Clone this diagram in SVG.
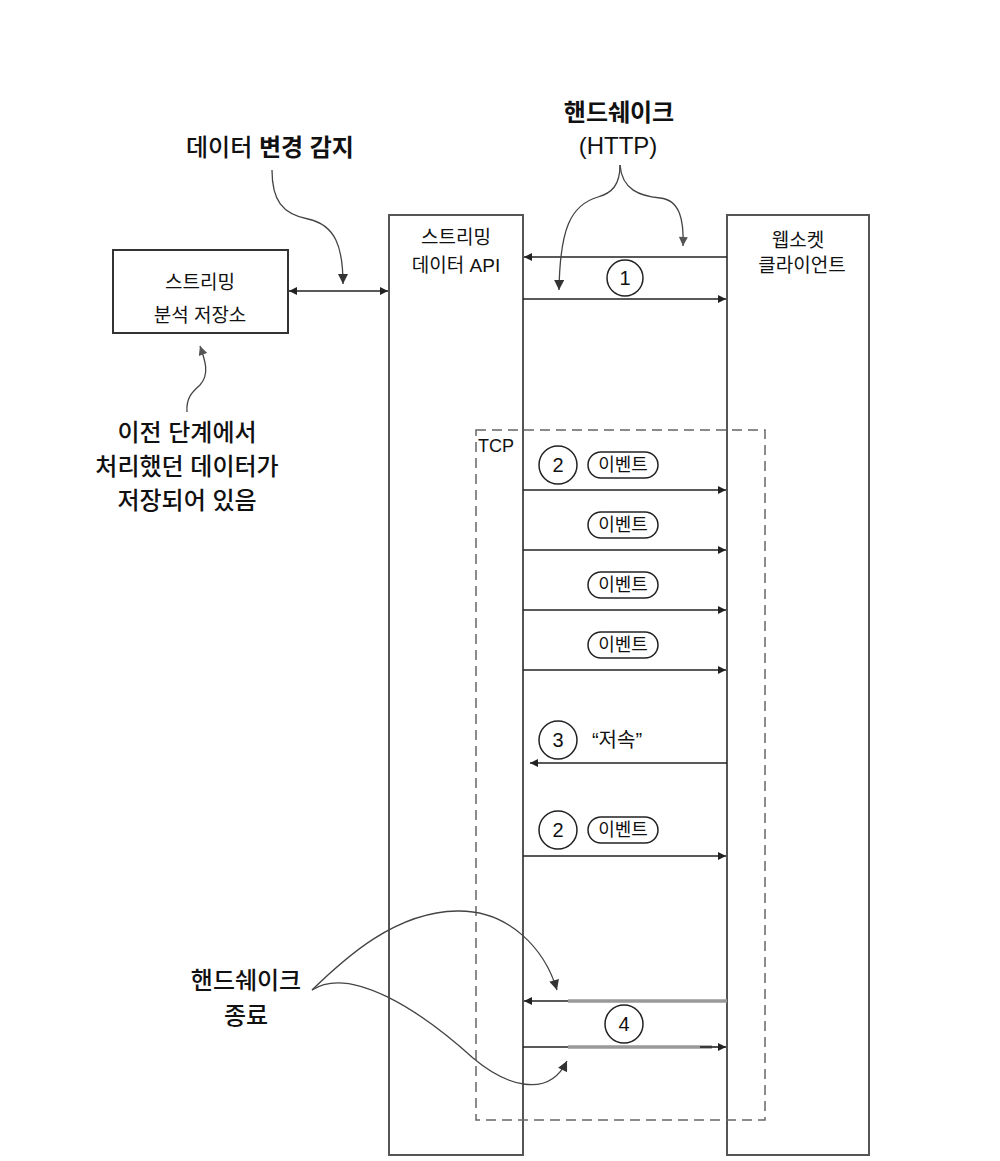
<svg xmlns="http://www.w3.org/2000/svg" width="1000" height="1161" viewBox="0 0 1000 1161">
<defs>
<marker id="ah" viewBox="0 0 10 10" refX="10" refY="5" markerWidth="15" markerHeight="8" markerUnits="userSpaceOnUse" orient="auto-start-reverse"><path d="M0,0 L10,5 L0,10 Z" fill="#222"/></marker>
<marker id="ahs" viewBox="0 0 10 10" refX="10" refY="5" markerWidth="14" markerHeight="10" markerUnits="userSpaceOnUse" orient="auto"><path d="M0,0 L10,5 L0,10 Z" fill="#333"/></marker>
<marker id="ahg" viewBox="0 0 10 10" refX="10" refY="5" markerWidth="12" markerHeight="9" markerUnits="userSpaceOnUse" orient="auto"><path d="M0,0 L10,5 L0,10 Z" fill="#555"/></marker>
</defs>
<style>
text{font-family:"Liberation Sans","Noto Sans CJK KR",sans-serif;fill:#111;text-anchor:middle}
.t{font-size:19px}
.l{font-size:24px;font-weight:500}
.b{font-weight:700}
.box{fill:#fff;stroke:#333;stroke-width:2}
.col{fill:#fff;stroke:#555;stroke-width:2}
.tcp{fill:none;stroke:#666;stroke-width:1.5;stroke-dasharray:10 6}
.msg{stroke:#222;stroke-width:1.6;fill:none}
.gry{stroke:#999;stroke-width:3.5;fill:none}
.cur{stroke:#444;stroke-width:1.3;fill:none}
.num{fill:#fff;stroke:#222;stroke-width:1.5}
.pill{fill:#fff;stroke:#222;stroke-width:1.5}
.n{font-size:20px}
.p{font-size:18px}
</style>
<rect width="1000" height="1161" fill="#fff"/>
<g id="store">
<rect class="box" x="113" y="250" width="175" height="83"/>
<text class="t" x="200" y="289">스트리밍</text>
<text class="t" x="200" y="322">분석 저장소</text>
</g>
<g id="api">
<rect class="col" x="389" y="215" width="134" height="940"/>
<text class="t" x="456" y="244">스트리밍</text>
<text class="t" x="456" y="272">데이터 API</text>
</g>
<g id="client">
<rect class="col" x="727" y="215" width="142" height="940"/>
<text class="t" x="798" y="247">웹소켓</text>
<text class="t" x="802" y="272">클라이언트</text>
</g>
<g id="tcp">
<rect class="tcp" x="476" y="430" width="289" height="690"/>
<text x="478" y="452" style="font-size:18px;text-anchor:start">TCP</text>
</g>
<g id="label-change">
<text class="l" x="270" y="156">데이터 <tspan class="b">변경 감지</tspan></text>
</g>
<g id="label-handshake">
<text class="l b" x="619" y="121">핸드쉐이크</text>
<text class="l" x="618" y="154" style="font-weight:400">(HTTP)</text>
</g>
<g id="label-prev">
<text class="l" x="187" y="441">이전 단계에서</text>
<text class="l" x="187" y="475">처리했던 데이터가</text>
<text class="l" x="187" y="509">저장되어 있음</text>
</g>
<g id="label-close">
<text class="l" x="246" y="989">핸드쉐이크</text>
<text class="l" x="246" y="1024">종료</text>
</g>
<g id="step1">
<circle class="num" cx="625" cy="278" r="18"/><text class="n" x="625" y="285">1</text>
</g>
<g id="step2a">
<circle class="num" cx="558" cy="465" r="19"/><text class="n" x="558" y="472">2</text>
</g>
<g id="ev1"><rect class="pill" x="588" y="452" width="70" height="26" rx="13"/><text class="p" x="623" y="471">이벤트</text></g>
<g id="ev2"><rect class="pill" x="588" y="512" width="70" height="26" rx="13"/><text class="p" x="623" y="531">이벤트</text></g>
<g id="ev3"><rect class="pill" x="588" y="572" width="70" height="26" rx="13"/><text class="p" x="623" y="591">이벤트</text></g>
<g id="ev4"><rect class="pill" x="588" y="632" width="70" height="26" rx="13"/><text class="p" x="623" y="651">이벤트</text></g>
<g id="step3">
<circle class="num" cx="558" cy="740" r="19"/><text class="n" x="558" y="747">3</text>
<text class="n" x="617" y="747">“저속”</text>
</g>
<g id="step2b">
<circle class="num" cx="558" cy="830" r="19"/><text class="n" x="558" y="837">2</text>
<rect class="pill" x="588" y="817" width="70" height="26" rx="13"/><text class="p" x="623" y="836">이벤트</text>
</g>
<g id="step4">
<circle class="num" cx="624" cy="1024" r="19"/><text class="n" x="624" y="1031">4</text>
</g>
<g id="connectors">
<line class="msg" x1="289" y1="291" x2="388" y2="291" marker-start="url(#ah)" marker-end="url(#ah)"/>
<line class="msg" x1="727" y1="257" x2="524" y2="257" marker-end="url(#ah)"/>
<line class="msg" x1="523" y1="299" x2="726" y2="299" marker-end="url(#ah)"/>
<line class="msg" x1="523" y1="490" x2="726" y2="490" marker-end="url(#ah)"/>
<line class="msg" x1="523" y1="550" x2="726" y2="550" marker-end="url(#ah)"/>
<line class="msg" x1="523" y1="610" x2="726" y2="610" marker-end="url(#ah)"/>
<line class="msg" x1="523" y1="670" x2="726" y2="670" marker-end="url(#ah)"/>
<line class="msg" x1="727" y1="763" x2="530" y2="763" marker-end="url(#ah)"/>
<line class="msg" x1="523" y1="856" x2="726" y2="856" marker-end="url(#ah)"/>
<line class="gry" x1="568" y1="1001" x2="727" y2="1001"/>
<line class="gry" x1="568" y1="1047" x2="712" y2="1047"/>
<line class="msg" x1="568" y1="1001" x2="524" y2="1001" marker-end="url(#ah)"/>
<line class="msg" x1="523" y1="1047" x2="568" y2="1047"/>
<line class="msg" x1="700" y1="1047" x2="726" y2="1047" marker-end="url(#ah)"/>
<path class="cur" d="M272,170 C272,200 282,214 308,219 C336,225 343,248 343,284" marker-end="url(#ahs)"/>
<path class="cur" d="M620,165 C620,185 612,193 598,197 C570,205 560,230 559,290" marker-end="url(#ahs)"/>
<path class="cur" d="M620,165 C622,190 640,196 660,198 C680,200 684,220 683,246" stroke="#777" marker-end="url(#ahg)"/>
<path class="cur" d="M187,412 C186,398 192,392 200,385 C210,374 205,360 200,346" stroke="#999" marker-end="url(#ahg)"/>
<path class="cur" d="M312,990 C345,958 395,912 457,911 C510,910 545,950 557,990" marker-end="url(#ahs)"/>
<path class="cur" d="M312,990 C350,965 420,1010 473,1058 C505,1085 548,1100 567,1061" marker-end="url(#ahs)"/>
</g>
</svg>
